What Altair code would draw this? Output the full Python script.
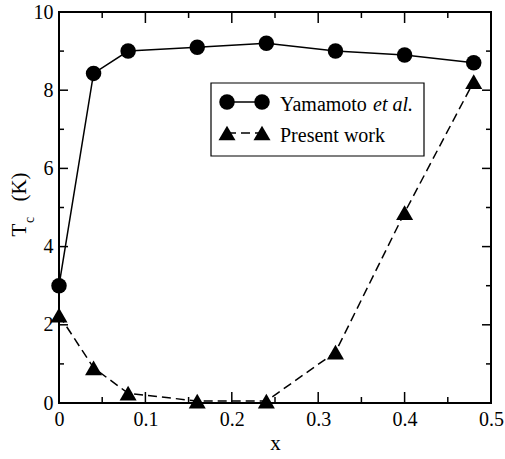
import altair as alt
import pandas as pd

# ---- data ----
x_vals = [0.0, 0.04, 0.08, 0.16, 0.24, 0.32, 0.40, 0.48]
yamamoto = [3.0, 8.43, 9.0, 9.1, 9.2, 9.0, 8.9, 8.7]
present = [2.25, 0.9, 0.25, 0.05, 0.05, 1.3, 4.87, 8.22]

x_major = [0, 0.1, 0.2, 0.3, 0.4, 0.5]
x_minor = [0.05, 0.15, 0.25, 0.35, 0.45]
y_major = [0, 2, 4, 6, 8, 10]
y_minor = [1, 3, 5, 7, 9]

series_names = ["Yamamoto", "et al.", "Present work"]
x_title = "x"
y_title_main = "T"
y_title_sub = "c"
y_title_unit = "(K)"

FONT = "Liberation Serif"
W, H = 432, 391

df_y = pd.DataFrame({"x": x_vals, "Tc": yamamoto})
df_p = pd.DataFrame({"x": x_vals, "Tc": present})
one = pd.DataFrame({"d": [0]})

xs = alt.Scale(domain=[0, 0.5], nice=False, zero=False)
ys = alt.Scale(domain=[0, 10], nice=False)

xaxis = alt.Axis(values=x_major, format=".1~f", tickSize=0, domain=False, grid=False,
                 labelFlush=False, labelOverlap=False,
                 labelFont=FONT, labelFontSize=20, labelPadding=6, labelColor="black",
                 title=x_title, titleFont=FONT, titleFontSize=21, titleFontWeight="normal",
                 titlePadding=3, titleColor="black")
yaxis = alt.Axis(values=y_major, format="d", tickSize=0, domain=False, grid=False,
                 labelFlush=False, labelOverlap=False,
                 labelFont=FONT, labelFontSize=20, labelPadding=6, labelColor="black",
                 title=None)

X = alt.X("x:Q", scale=xs, axis=xaxis)
Y = alt.Y("Tc:Q", scale=ys, axis=yaxis)

line_y = alt.Chart(df_y).mark_line(color="black", strokeWidth=1.5).encode(x=X, y=Y)
pts_y = alt.Chart(df_y).mark_point(shape="circle", filled=True, color="black", size=240, opacity=1).encode(x=X, y=Y)
line_p = alt.Chart(df_p).mark_line(color="black", strokeWidth=1.5, strokeDash=[9, 5]).encode(x=X, y=Y)
pts_p = alt.Chart(df_p).mark_point(shape="triangle-up", filled=True, color="black", size=290, opacity=1).encode(x=X, y=Y)

# ---- inward ticks on all four sides ----
def xticks(vals, length):
    d = pd.DataFrame({"x": vals})
    b = alt.Chart(d).mark_rule(color="black", strokeWidth=1.5).encode(
        x=alt.X("x:Q", scale=xs), y=alt.value(H), y2=alt.value(H - length))
    t = alt.Chart(d).mark_rule(color="black", strokeWidth=1.5).encode(
        x=alt.X("x:Q", scale=xs), y=alt.value(0), y2=alt.value(length))
    return [b, t]

def yticks(vals, length):
    d = pd.DataFrame({"Tc": vals})
    l = alt.Chart(d).mark_rule(color="black", strokeWidth=1.5).encode(
        y=alt.Y("Tc:Q", scale=ys), x=alt.value(0), x2=alt.value(length))
    r = alt.Chart(d).mark_rule(color="black", strokeWidth=1.5).encode(
        y=alt.Y("Tc:Q", scale=ys), x=alt.value(W), x2=alt.value(W - length))
    return [l, r]

ticks = xticks(x_major[1:-1], 11) + xticks(x_minor, 6) + yticks(y_major[1:-1], 9) + yticks(y_minor, 5)

# ---- text helper ----
def txt(text, x, y, size, angle=0, style="normal", align="center"):
    return alt.Chart(one).mark_text(text=text, font=FONT, fontSize=size, angle=angle,
                                    fontStyle=style, align=align, baseline="middle",
                                    color="black").encode(x=alt.value(x), y=alt.value(y))

ytitle = [txt(y_title_main, -39, 218, 21, angle=270),
          txt(y_title_sub, -29, 208, 14, angle=270),
          txt(y_title_unit, -39, 175, 21, angle=270)]

# ---- legend ----
box = alt.Chart(one).mark_rect(fill="white", stroke="black", strokeWidth=1.2).encode(
    x=alt.value(152), x2=alt.value(365), y=alt.value(71), y2=alt.value(144))
leg_l1 = alt.Chart(one).mark_rule(color="black", strokeWidth=1.5).encode(
    x=alt.value(168), x2=alt.value(203), y=alt.value(90))
leg_l2 = alt.Chart(one).mark_rule(color="black", strokeWidth=1.5, strokeDash=[9, 5]).encode(
    x=alt.value(168), x2=alt.value(203), y=alt.value(121))
leg_c = [alt.Chart(one).mark_point(shape="circle", filled=True, color="black", size=240, opacity=1).encode(
    x=alt.value(px), y=alt.value(90)) for px in (168, 203)]
leg_t = [alt.Chart(one).mark_point(shape="triangle-up", filled=True, color="black", size=290, opacity=1).encode(
    x=alt.value(px), y=alt.value(121)) for px in (168, 203)]
leg_txt = [txt(series_names[0], 221, 93, 20, align="left"),
           txt(series_names[1], 314, 93, 20, style="italic", align="left"),
           txt(series_names[2], 221, 124, 20, align="left")]

chart = alt.layer(*ticks, line_y, line_p, pts_y, pts_p, *ytitle,
                  box, leg_l1, leg_l2, *leg_c, *leg_t, *leg_txt).properties(
    width=W, height=H,
    background="white",
    autosize=alt.AutoSizeParams(type="none"),
    padding={"left": 59, "top": 12, "right": 14, "bottom": 56},
).configure_view(stroke="black", strokeWidth=2)

chart.save("out.html", embed_options={"renderer": "svg", "actions": False})
